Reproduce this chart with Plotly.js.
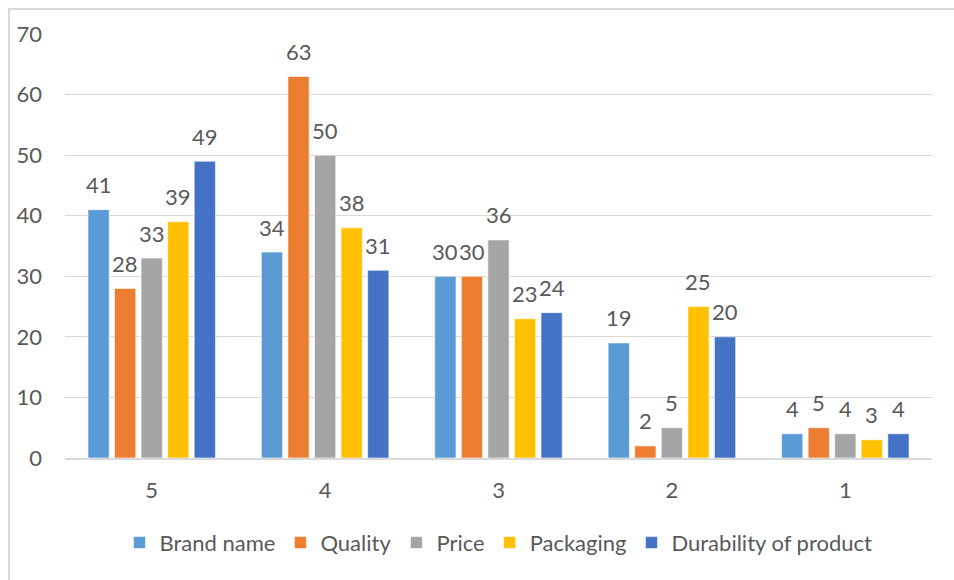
<!DOCTYPE html>
<html>
<head>
<meta charset="utf-8">
<script src="https://cdn.plot.ly/plotly-3.0.1.min.js"></script>
<style>
  html, body { margin: 0; padding: 0; background: #ffffff; }
  #wrap { position: relative; width: 954px; height: 580px; overflow: hidden; }
  #chart { position: absolute; left: 0; top: 0; width: 954px; height: 580px; }
  #frame { position: absolute; left: 8px; top: 8px; right: -4px; bottom: -4px;
           border-top: 2px solid #d9d9d9; border-left: 2px solid #d9d9d9;
           pointer-events: none; }
</style>
</head>
<body>
<div id="wrap">
  <div id="chart"></div>
  <div id="frame"></div>
</div>
<script>
// Rating scale (5 = highest) and responses per attribute
const ratings = ['5', '4', '3', '2', '1'];
const brandName = [41, 34, 30, 19, 4];
const quality = [28, 63, 30, 2, 5];
const price = [33, 50, 36, 5, 4];
const packaging = [39, 38, 23, 25, 3];
const durability = [49, 31, 24, 20, 4];

const seriesNames = ['Brand name', 'Quality', 'Price', 'Packaging', 'Durability of product'];
const seriesValues = [brandName, quality, price, packaging, durability];
const seriesColors = ['#5B9BD5', '#ED7D31', '#A5A5A5', '#FFC000', '#4472C4'];

const W = 954, H = 580;
const margin = { l: 65, r: 22, t: 34, b: 122 };
const bargap = 0.234;
const textColor = '#595959';
const fontFamily = 'Lato, "Open Sans", sans-serif';
const fontSize = 22;

const traces = seriesNames.map((name, i) => ({
  type: 'bar',
  name: name,
  x: ratings,
  y: seriesValues[i],
  marker: { color: seriesColors[i], line: { color: '#ffffff', width: 0.6 } },
  hoverinfo: 'x+y+name'
}));

// Value labels above each bar, shifted horizontally to the bar's slot in its group
const catWidth = (W - margin.l - margin.r) / ratings.length;
const slot = catWidth * (1 - bargap) / seriesNames.length;
const annotations = [];
seriesValues.forEach((vals, i) => {
  vals.forEach((v, j) => {
    annotations.push({
      x: j, y: v, xref: 'x', yref: 'y',
      text: String(v), showarrow: false,
      xshift: (i - (seriesNames.length - 1) / 2) * slot,
      yshift: 25, yanchor: 'middle', xanchor: 'center',
      font: { family: fontFamily, size: fontSize, color: textColor }
    });
  });
});

const layout = {
  width: W, height: H,
  margin: margin,
  paper_bgcolor: '#ffffff', plot_bgcolor: '#ffffff',
  font: { family: fontFamily, size: fontSize, color: textColor },
  barmode: 'group',
  bargap: bargap,
  bargroupgap: 0.2,
  showlegend: true,
  legend: {
    orientation: 'h', x: 0.5, xanchor: 'center', y: -0.2, yanchor: 'middle',
    font: { family: fontFamily, size: fontSize, color: textColor },
    itemclick: false, itemdoubleclick: false, traceorder: 'normal'
  },
  xaxis: {
    type: 'category',
    range: [-0.5, ratings.length - 0.5],
    showgrid: false, zeroline: false,
    showline: true, linecolor: '#d9d9d9', linewidth: 1.5,
    ticks: '', ticklabelstandoff: 12,
    tickfont: { family: fontFamily, size: fontSize, color: textColor },
    fixedrange: true
  },
  yaxis: {
    range: [0, 70], dtick: 10, tick0: 0,
    showgrid: true, gridcolor: '#d9d9d9', gridwidth: 1.2,
    zeroline: false, showline: false,
    ticks: '', ticklabelstandoff: 22,
    tickfont: { family: fontFamily, size: fontSize, color: textColor },
    fixedrange: true
  },
  annotations: annotations
};

Plotly.newPlot('chart', traces, layout, { displayModeBar: false, staticPlot: true });
</script>
</body>
</html>
